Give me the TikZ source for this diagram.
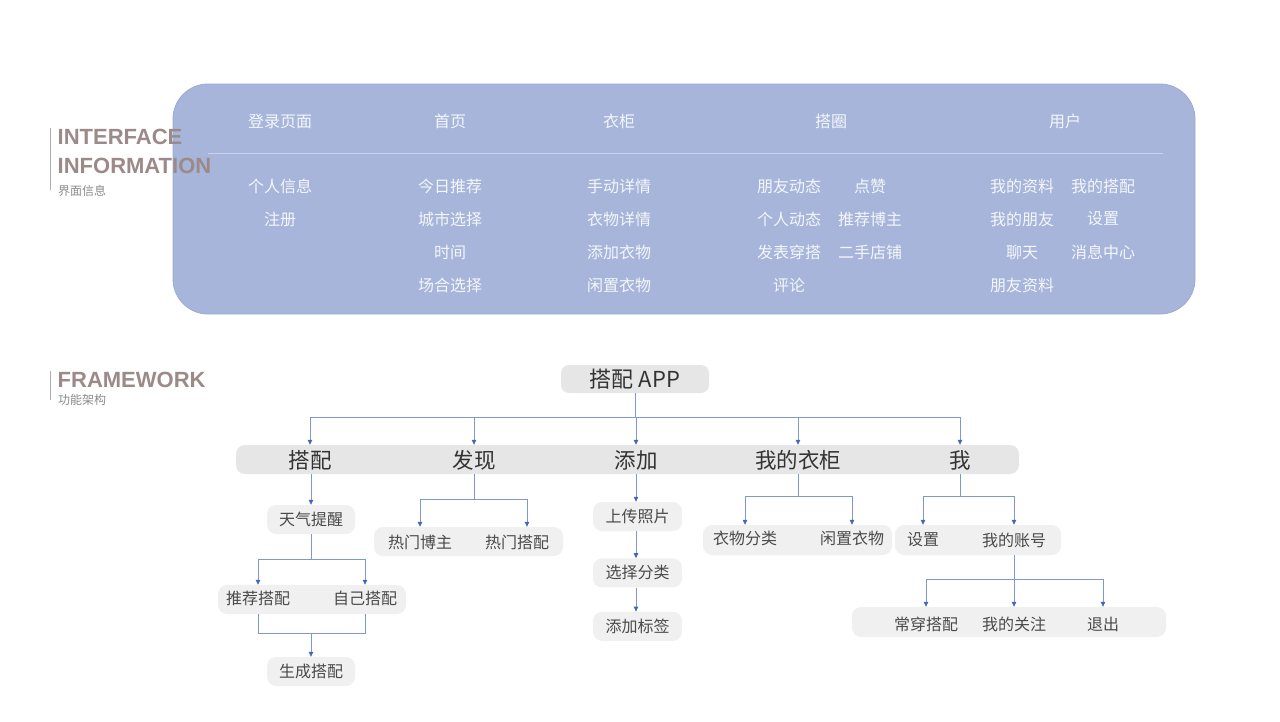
\documentclass[tikz,border=0pt]{standalone}
\usepackage{fontspec}
\setmainfont{Noto Sans CJK SC}
\newfontfamily\titlefont{Liberation Sans}
\usetikzlibrary{arrows.meta,positioning}
\definecolor{boxblue}{HTML}{A6B5D9}
\definecolor{boxedge}{HTML}{9AABD4}
\definecolor{sepline}{HTML}{C8D2EC}
\definecolor{itemwhite}{HTML}{F4F6FB}
\definecolor{titlebrown}{HTML}{9B8A88}
\definecolor{subgraytext}{HTML}{8A8A8A}
\definecolor{leftline}{HTML}{B3ABAB}
\definecolor{bargray}{HTML}{E6E6E6}
\definecolor{subgray}{HTML}{F0F0F0}
\definecolor{textdark}{HTML}{333333}
\definecolor{textmid}{HTML}{4A4A4A}
\definecolor{linkblue}{HTML}{7F98D3}
\definecolor{tipblue}{HTML}{4466BB}
\begin{document}
\begin{tikzpicture}[x=1pt,y=-1pt]
    \tikzset{infobox/.style={fill=boxblue,draw=boxedge,line width=0.8pt,rounded corners=35,minimum
        width=1022,minimum height=230,inner sep=0},head/.style={inner sep=0,text=itemwhite,font=\fontsize{16}{19}\selectfont},item/.style={head},
      title/.style={inner sep=0,text=titlebrown,font=\titlefont\bfseries\fontsize{22}{24}\selectfont},
      subtitle/.style={inner sep=0,text=subgraytext,font=\fontsize{12}{14}\selectfont},
      root/.style={fill=bargray,rounded corners=8,minimum width=148,minimum
        height=28,inner sep=0,text=textdark,font=\fontsize{22}{26}\selectfont},
      bar/.style={fill=bargray,rounded corners=9,minimum height=29,inner sep=0},
      cat/.style={inner sep=0,text=textdark,font=\fontsize{21.5}{25}\selectfont},
      sub/.style={fill=subgray,rounded corners=9,minimum height=29,inner sep=0},
      leaf/.style={sub,minimum width=88,text=textmid,font=\fontsize{16}{19}\selectfont},
      lbl/.style={inner sep=0,text=textmid,font=\fontsize{16}{19}\selectfont},
      link/.style={draw=linkblue,line width=0.8pt},
      arr/.style={link,-{Triangle[width=4.5pt,length=5pt,color=tipblue]}}}
    \useasboundingbox (0,0) rectangle (1280,721);

    \node[infobox] (info) at (684,199) {};
    \draw[sepline,line width=0.8pt] (208,153) -- (1163,153);
    \node[head] (hdl) at (280,121) {登录页面};
    \node[head] (hsy) at (450,121) {首页};
    \node[head] (hyg) at (619,121) {衣柜};
    \node[head] (hdq) at (831,121) {搭圈};
    \node[head] (hyh) at (1065,121) {用户};
    \foreach \t [count=\i] in {个人信息,注册}
      \node[item] (dl\i) at (280,{153+33*\i}) {\t};
    \foreach \t [count=\i] in {今日推荐,城市选择,时间,场合选择}
      \node[item] (sy\i) at (450,{153+33*\i}) {\t};
    \foreach \t [count=\i] in {手动详情,衣物详情,添加衣物,闲置衣物}
      \node[item] (yg\i) at (619,{153+33*\i}) {\t};
    \foreach \t [count=\i] in {朋友动态,个人动态,发表穿搭,评论}
      \node[item] (dqa\i) at (789,{153+33*\i}) {\t};
    \foreach \t [count=\i] in {点赞,推荐博主,二手店铺}
      \node[item] (dqb\i) at (870,{153+33*\i}) {\t};
    \foreach \t [count=\i] in {我的资料,我的朋友,聊天,朋友资料}
      \node[item] (yha\i) at (1022,{153+33*\i}) {\t};
    \foreach \t [count=\i] in {我的搭配,设置,消息中心}
      \node[item] (yhb\i) at (1103,{153+33*\i}) {\t};

    \draw[leftline,line width=1pt] (50,128) -- (50,190);
    \node[title,anchor=base west] (tinter) at (57.5,144) {INTERFACE};
    \node[title,anchor=base west] (tinfo) at (57.5,173) {INFORMATION};
    \node[subtitle,anchor=west] (tjm) at (58,191) {界面信息};
    \draw[leftline,line width=1pt] (50,371) -- (50,400);
    \node[title,anchor=base west] (tframe) at (57.5,387) {FRAMEWORK};
    \node[subtitle,anchor=west] (tgn) at (58,400) {功能架构};

    \node[root] (app) at (635,379) {搭配 APP};
    \node[bar,minimum width=783] (bar1) at (627.5,459.5) {};
    \node[cat] (cpd) at (310,460) {搭配};
    \node[cat] (cfx) at (474,460) {发现};
    \node[cat] (ctj) at (636,460) {添加};
    \node[cat] (cyg) at (798,460) {我的衣柜};
    \node[cat] (cme) at (960,460) {我};

    \draw[link] (app.south) -- ++(0,24) coordinate (j0);
    \draw[link] (j0 -| cpd) -- (j0 -| cme);
    \foreach \n in {cpd,cfx,ctj,cyg,cme}
      \draw[arr] (j0 -| \n) -- (\n |- bar1.north);

    \node[leaf] (tq) at (311,519.5) {天气提醒};
    \draw[arr] (tq |- bar1.south) -- (tq.north);
    \node[sub,minimum width=188] (bar2) at (312,599.5) {};
    \node[lbl] (tj) at (258,598) {推荐搭配};
    \node[lbl] (zj) at (365,598) {自己搭配};
    \draw[link] (tq.south) -- ++(0,25) coordinate (j1);
    \draw[link] (j1 -| tj) -- (j1 -| zj);
    \draw[arr] (j1 -| tj) -- (tj |- bar2.north);
    \draw[arr] (j1 -| zj) -- (zj |- bar2.north);
    \node[leaf] (sc) at (311,671.5) {生成搭配};
    \coordinate (j2) at (311,633);
    \draw[link] (tj |- bar2.south) |- (j2) -| (zj |- bar2.south);
    \draw[arr] (j2) -- (sc.north);

    \node[sub,minimum width=189] (bar3) at (468.5,541.5) {};
    \node[lbl] (rb) at (420,542) {热门博主};
    \node[lbl] (rp) at (517,542) {热门搭配};
    \draw[link] (cfx |- bar1.south) -- ++(0,25) coordinate (j3);
    \draw[link] (j3 -| rb) -- ([xshift=10]j3 -| rp);
    \draw[arr] (j3 -| rb) -- (rb |- bar3.north);
    \draw[arr] ([xshift=10]j3 -| rp) -- ([xshift=10]rp |- bar3.north);

    \node[leaf,minimum width=89] (up) at (637.5,516.5) {上传照片};
    \node[leaf,minimum width=89] (xz) [below=27pt of up] {选择分类};
    \node[leaf,minimum width=89] (bq) [below=24pt of xz] {添加标签};
    \draw[arr] (ctj |- bar1.south) -- (ctj |- up.north);
    \draw[arr] (ctj |- up.south) -- (ctj |- xz.north);
    \draw[arr] (ctj |- xz.south) -- (ctj |- bq.north);

    \node[sub,minimum width=189,minimum height=30] (bar4) at (797.5,540) {};
    \node[lbl] (fl) at (745,538) {衣物分类};
    \node[lbl] (xy) at (852,538) {闲置衣物};
    \draw[link] (cyg |- bar1.south) -- ++(0,22) coordinate (j4);
    \draw[link] (j4 -| fl) -- (j4 -| xy);
    \draw[arr] (j4 -| fl) -- (fl |- bar4.north);
    \draw[arr] (j4 -| xy) -- (xy |- bar4.north);

    \node[sub,minimum width=166,minimum height=30] (bar5) at (978,540) {};
    \node[lbl] (sz) at (923,540) {设置};
    \node[lbl] (zh) at (1014,540) {我的账号};
    \draw[link] (cme |- bar1.south) -- ++(0,22) coordinate (j5);
    \draw[link] (j5 -| sz) -- (j5 -| zh);
    \draw[arr] (j5 -| sz) -- (sz |- bar5.north);
    \draw[arr] (j5 -| zh) -- (zh |- bar5.north);

    \node[sub,minimum width=314,minimum height=30] (bar6) at (1009,622) {};
    \node[lbl] (cc) at (926,624) {常穿搭配};
    \node[lbl] (gz) at (1014,624) {我的关注};
    \node[lbl] (tc) at (1103,624) {退出};
    \draw[link] (zh |- bar5.south) -- ++(0,24) coordinate (j6);
    \draw[link] (j6 -| cc) -- (j6 -| tc);
    \foreach \n in {cc,gz,tc}
      \draw[arr] (j6 -| \n) -- (\n |- bar6.north);

  \end{tikzpicture}
\end{document}
